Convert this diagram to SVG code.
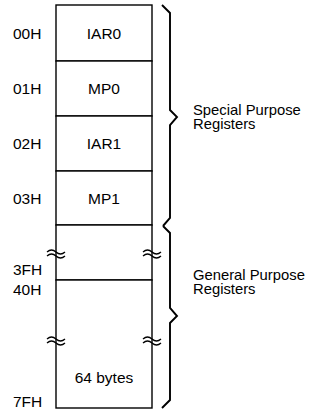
<svg xmlns="http://www.w3.org/2000/svg" width="330" height="413" viewBox="0 0 330 413">
<style>
.cell{fill:#fff;stroke:#000;stroke-width:1.4}
.t{font-family:"Liberation Sans",Arial,sans-serif;font-size:15.5px;fill:#000}
.r{font-size:14.8px}
.c{text-anchor:middle}
.br{fill:none;stroke:#000;stroke-width:1.9;stroke-linejoin:miter}
.tl{fill:none;stroke:#000;stroke-width:1.3}
</style>
<rect width="330" height="413" fill="#fff"/>
<g id="cell-00H">
<rect class="cell" x="56" y="5" width="96" height="56"/>
<text class="t" x="13" y="38.5">00H</text>
<text class="t c" x="104" y="38.5">IAR0</text>
</g>
<g id="cell-01H">
<rect class="cell" x="56" y="61" width="96" height="55"/>
<text class="t" x="13" y="94">01H</text>
<text class="t c" x="104" y="94">MP0</text>
</g>
<g id="cell-02H">
<rect class="cell" x="56" y="116" width="96" height="55"/>
<text class="t" x="13" y="149">02H</text>
<text class="t c" x="104" y="149">IAR1</text>
</g>
<g id="cell-03H">
<rect class="cell" x="56" y="171" width="96" height="54"/>
<text class="t" x="13" y="203.5">03H</text>
<text class="t c" x="104" y="203.5">MP1</text>
</g>
<g id="cell-04H-3FH">
<rect class="cell" x="56" y="225" width="96" height="55"/>
<path class="tl" d="M47,252 q4.5,-4 9,0 t9,0 M47,256 q4.5,-4 9,0 t9,0"/>
<path class="tl" d="M143,252 q4.5,-4 9,0 t9,0 M143,256 q4.5,-4 9,0 t9,0"/>
<text class="t" x="13" y="275">3FH</text>
</g>
<g id="cell-40H-7FH">
<rect class="cell" x="56" y="280" width="96" height="128"/>
<path class="tl" d="M47,339 q4.5,-4 9,0 t9,0 M47,343 q4.5,-4 9,0 t9,0"/>
<path class="tl" d="M143,339 q4.5,-4 9,0 t9,0 M143,343 q4.5,-4 9,0 t9,0"/>
<text class="t" x="13" y="295">40H</text>
<text class="t" x="13" y="406.5">7FH</text>
<text class="t c" x="104" y="382.5">64 bytes</text>
</g>
<g id="connectors">
<path class="br" d="M162,5 L170,13 L170,110 L177,117 L170,125 L170,218 L163,226"/>
<path class="br" d="M163,226 L170,233 L170,308 L177,316 L170,323 L170,400 L162,408"/>
</g>
<g id="label-special">
<text class="t r" x="193" y="115">Special Purpose</text>
<text class="t r" x="193" y="129">Registers</text>
</g>
<g id="label-general">
<text class="t r" x="193" y="280">General Purpose</text>
<text class="t r" x="193" y="294">Registers</text>
</g>
</svg>
